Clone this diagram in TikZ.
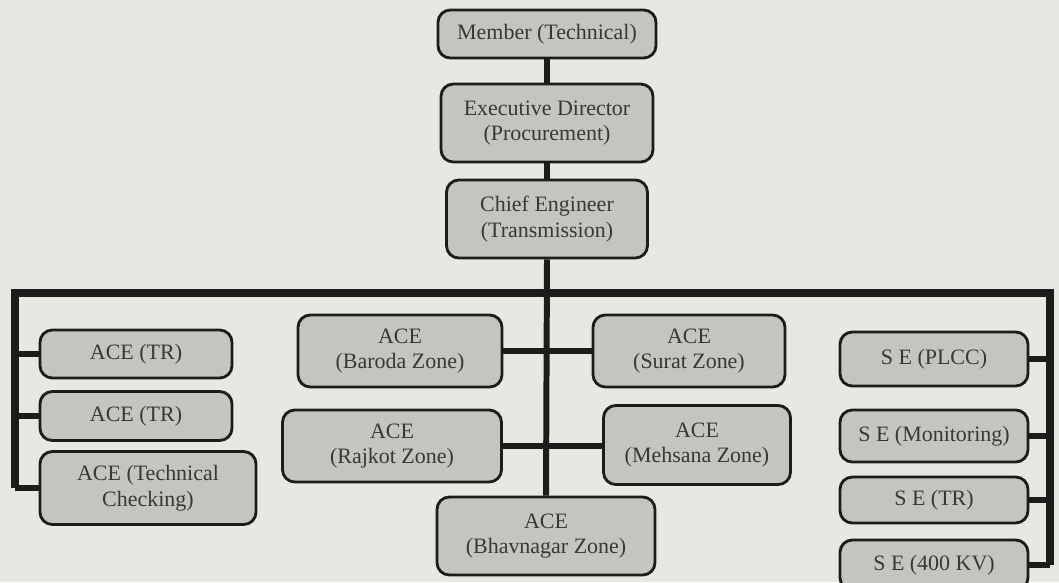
\documentclass[tikz,border=0pt]{standalone}
\usepackage{fontspec}
\setmainfont{Liberation Serif}
\usetikzlibrary{positioning, calc}
\definecolor{paper}{HTML}{E9E7E4}
\definecolor{boxgray}{HTML}{C6C4C1}
\definecolor{inkline}{HTML}{1E1C1B}
\definecolor{inktext}{HTML}{3A3836}

\tikzset{
  post/.style={draw=inkline, fill=boxgray, line width=1.6pt, rounded corners=7pt,
    inner sep=0pt, align=center, text=inktext, font=\fontsize{12.5}{14.5}\selectfont},
  link/.style={draw=inkline, line width=3.4pt}
}

\begin{document}
\begin{tikzpicture}[x=0.2mm, y=-0.2mm]

% Background
\fill[paper] (0,0) rectangle (1059,582);
\useasboundingbox (0,0) rectangle (1059,582);

% Top chain
\node[post, minimum width=4.36cm, minimum height=0.96cm] (mt) at (547,34) {Member (Technical)};
\node[post, minimum width=4.24cm, minimum height=1.56cm] (ed) at (547,123) {Executive Director\\(Procurement)};
\node[post, minimum width=4.02cm, minimum height=1.56cm] (ce) at (547,219) {Chief Engineer\\(Transmission)};

% Left column
\node[post, minimum width=3.84cm, minimum height=0.96cm] (acetr1) at (136,354) {ACE (TR)};
\node[post, minimum width=3.84cm, minimum height=0.98cm] (acetr2) at (136,416) {ACE (TR)};
\node[post, minimum width=4.32cm, minimum height=1.46cm] (acetc) at (148,488) {ACE (Technical\\Checking)};

% Zones
\node[post, minimum width=4.08cm, minimum height=1.44cm] (baroda) at (400,351) {ACE\\(Baroda Zone)};
\node[post, minimum width=3.84cm, minimum height=1.44cm] (surat) at (689,351) {ACE\\(Surat Zone)};
\node[post, minimum width=4.38cm, minimum height=1.44cm] (rajkot) at (392,446) {ACE\\(Rajkot Zone)};
\node[post, minimum width=3.74cm, minimum height=1.58cm] (mehsana) at (697,445) {ACE\\(Mehsana Zone)};
\node[post, minimum width=4.36cm, minimum height=1.56cm] (bhav) at (546,536) {ACE\\(Bhavnagar Zone)};

% Right column
\node[post, minimum width=3.76cm, minimum height=1.08cm] (seplcc) at (934,359) {S E (PLCC)};
\node[post, minimum width=3.76cm, minimum height=1.04cm] (semon) at (934,436) {S E (Monitoring)};
\node[post, minimum width=3.76cm, minimum height=0.92cm] (setr) at (934,500) {S E (TR)};
\node[post, minimum width=3.76cm, minimum height=1.00cm] (sekv) at (934,565) {S E (400 KV)};

% Bus ends
\coordinate (busL) at (15,293);
\coordinate (busR) at (1050,293);

% Connectors
\draw[link] (mt.south) -- (ed.north);
\draw[link] (ed.south) -- (ce.north);
\draw[link] (ce.south) -- (bhav.north);
\draw[link, line width=4pt, line join=miter] (acetc.west -| busL) -- (busL) -- (busR) -- (sekv.east -| busR);
\draw[link] (acetr1.west) -- (acetr1.west -| busL);
\draw[link] (acetr2.west) -- (acetr2.west -| busL);
\draw[link] (acetc.west) -- (acetc.west -| busL);
\draw[link] (baroda.east) -- (surat.west);
\draw[link] (rajkot.east) -- (rajkot.east -| mehsana.west);
\draw[link] (seplcc.east) -- (seplcc.east -| busR);
\draw[link] (semon.east) -- (semon.east -| busR);
\draw[link] (setr.east) -- (setr.east -| busR);
\draw[link] (sekv.east) -- (sekv.east -| busR);

\end{tikzpicture}
\end{document}
